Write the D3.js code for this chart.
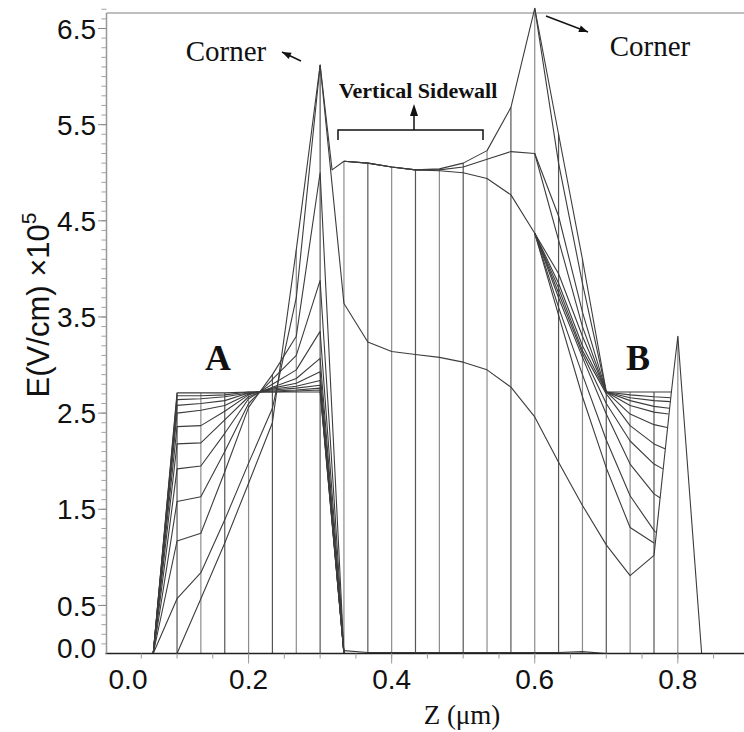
<!DOCTYPE html>
<html>
<head>
<meta charset="utf-8">
<script src="https://cdn.jsdelivr.net/npm/d3@7"></script>
<style>
  html, body { margin: 0; padding: 0; background: #fff; }
  svg { display: block; }
</style>
</head>
<body>
<svg id="chart" width="744" height="732"></svg>
<script>
// Z positions (µm) of the vertical mesh lines
const gridZ = [0.1, 0.1333, 0.1667, 0.2, 0.2333, 0.2667, 0.3, 0.3333, 0.3667,
  0.4, 0.4333, 0.4667, 0.5, 0.5333, 0.5667, 0.6, 0.6333, 0.6667, 0.7,
  0.7333, 0.7667, 0.8];

// Field profiles, [Z (µm), E (×1e5 V/cm)]
// outer profile: plateau A, left corner, sidewall, right corner, plateau B, edge peak
const pTop = [[0.0667, 0], [0.1, 0], [0.1333, 0.57], [0.1667, 1.15], [0.2, 1.77], [0.2333, 2.40], [0.2667, 4.20], [0.3, 6.12],
  [0.3167, 5.03], [0.3333, 5.12], [0.3667, 5.10], [0.4, 5.06], [0.4333, 5.03], [0.4667, 5.04], [0.5, 5.10],
  [0.5333, 5.23], [0.5667, 5.68], [0.6, 6.71], [0.6333, 5.40], [0.6667, 4.10], [0.7, 2.72], [0.7333, 2.72],
  [0.7667, 2.72], [0.791, 2.72], [0.8, 3.30], [0.8333, 0]];
// profile leaving the left corner towards the lower sidewall level
const pLow = [[0.0667, 0], [0.1, 0.57], [0.1333, 0.84], [0.1667, 1.39], [0.2, 1.98], [0.2333, 2.55], [0.2667, 3.70], [0.3, 6.12],
  [0.3333, 3.64], [0.3667, 3.24], [0.4, 3.14], [0.4333, 3.11], [0.4667, 3.08], [0.5, 3.03], [0.5333, 2.95],
  [0.5667, 2.77], [0.6, 2.46], [0.6333, 1.99], [0.6667, 1.54], [0.7, 1.13], [0.7333, 0.81], [0.7667, 1.02]];
// sidewall profiles splitting towards the right corner
const pSide2 = [[0.3333, 5.12], [0.3667, 5.10], [0.4, 5.06], [0.4333, 5.03], [0.4667, 5.03], [0.5, 5.06],
  [0.5333, 5.14], [0.5667, 5.22], [0.6, 5.20], [0.6333, 4.55], [0.6667, 3.55], [0.7, 2.72], [0.7333, 2.66],
  [0.7667, 2.63], [0.789, 2.62]];
const pSide3 = [[0.3333, 5.12], [0.3667, 5.10], [0.4, 5.06], [0.4333, 5.03], [0.4667, 5.02], [0.5, 5.00],
  [0.5333, 4.94], [0.5667, 4.77], [0.6, 4.37], [0.6333, 3.95], [0.6667, 3.30], [0.7, 2.72], [0.7333, 2.58],
  [0.7667, 2.51], [0.787, 2.49]];

// region A profiles (fan-in towards Z = 0.21, fan-out to the corner)
const pA0 = [[0.0667, 0], [0.1, 2.71], [0.1333, 2.71], [0.1667, 2.71], [0.2, 2.72], [0.2333, 2.72], [0.2667, 2.72], [0.3, 2.72], [0.3333, 0]];
const pA1 = [[0.0667, 0], [0.1, 2.68], [0.1333, 2.68], [0.1667, 2.69], [0.2, 2.72], [0.2333, 2.72], [0.2667, 2.73], [0.3, 2.74], [0.3333, 0]];
const pA2 = [[0.0667, 0], [0.1, 2.64], [0.1333, 2.65], [0.1667, 2.67], [0.2, 2.71], [0.2333, 2.73], [0.2667, 2.74], [0.3, 2.76], [0.3333, 0]];
const pA3 = [[0.0667, 0], [0.1, 2.58], [0.1333, 2.60], [0.1667, 2.63], [0.2, 2.71], [0.2333, 2.74], [0.2667, 2.76], [0.3, 2.79], [0.3333, 0]];
const pA4 = [[0.0667, 0], [0.1, 2.50], [0.1333, 2.53], [0.1667, 2.58], [0.2, 2.70], [0.2333, 2.75], [0.2667, 2.78], [0.3, 2.84], [0.3333, 0]];
const pA5 = [[0.0667, 0], [0.1, 2.36], [0.1333, 2.37], [0.1667, 2.52], [0.2, 2.69], [0.2333, 2.76], [0.2667, 2.81], [0.3, 2.93], [0.3333, 0]];
const pA6 = [[0.0667, 0], [0.1, 2.18], [0.1333, 2.19], [0.1667, 2.43], [0.2, 2.67], [0.2333, 2.77], [0.2667, 2.86], [0.3, 3.07], [0.3333, 0]];
const pA7 = [[0.0667, 0], [0.1, 1.92], [0.1333, 1.95], [0.1667, 2.29], [0.2, 2.65], [0.2333, 2.80], [0.2667, 2.95], [0.3, 3.35], [0.3333, 0]];
const pA8 = [[0.0667, 0], [0.1, 1.58], [0.1333, 1.63], [0.1667, 2.10], [0.2, 2.60], [0.2333, 2.85], [0.2667, 3.10], [0.3, 3.88], [0.3333, 0]];
const pA9 = [[0.0667, 0], [0.1, 1.17], [0.1333, 1.25], [0.1667, 1.89], [0.2, 2.56], [0.2333, 2.90], [0.2667, 3.30], [0.3, 5.00], [0.3333, 0]];

// right flank profiles entering the B fan
const pB1 = [[0.6, 6.71], [0.6333, 5.10], [0.6667, 3.85], [0.7, 2.72], [0.7333, 2.69], [0.7667, 2.67], [0.790, 2.66]];
const pB2 = [[0.6, 5.20], [0.6333, 4.30], [0.6667, 3.40], [0.7, 2.72], [0.7333, 2.63], [0.7667, 2.57], [0.788, 2.55]];
const pB3 = [[0.6, 4.37], [0.6333, 3.85], [0.6667, 3.20], [0.7, 2.72], [0.7333, 2.49], [0.7667, 2.38], [0.785, 2.35]];
const pB4 = [[0.6, 4.37], [0.6333, 3.80], [0.6667, 3.15], [0.7, 2.70], [0.7333, 2.37], [0.7667, 2.18], [0.782, 2.13]];
const pB5 = [[0.6, 4.37], [0.6333, 3.75], [0.6667, 3.12], [0.7, 2.60], [0.7333, 2.21], [0.7667, 1.97], [0.779, 1.92]];
const pB6 = [[0.6, 4.37], [0.6333, 3.70], [0.6667, 3.08], [0.7, 2.49], [0.7333, 1.97], [0.7667, 1.66], [0.775, 1.62]];
const pB7 = [[0.6, 4.37], [0.6333, 3.60], [0.6667, 2.90], [0.7, 2.22], [0.7333, 1.64], [0.7667, 1.28], [0.769, 1.26]];
const pB8 = [[0.6, 4.37], [0.6333, 3.52], [0.6667, 2.67], [0.7, 1.93], [0.7333, 1.31], [0.7667, 1.15]];
// slanted right boundary of the B fan
const pEdge = [[0.7667, 1.02], [0.791, 2.72]];
// residual field along the trench bottom
const pFloor = [[0.3333, 0.03], [0.3667, 0.01], [0.6333, 0.01], [0.6667, 0.02], [0.7, 0]];

const profiles = [pTop, pLow, pSide2, pSide3, pA0, pA1, pA2, pA3, pA4, pA5, pA6, pA7,
  pA8, pA9, pB1, pB2, pB3, pB4, pB5, pB6, pB7, pB8, pEdge, pFloor];

// Axis ticks
const yTickValues = [0.5, 1.5, 2.5, 3.5, 4.5, 5.5, 6.5];
const xTickValues = [0.2, 0.4, 0.6, 0.8];

const svg = d3.select("#chart");
const x = d3.scaleLinear().domain([0, 0.8925]).range([105.5, 744]);
const y = d3.scaleLinear().domain([0, 6.5]).range([653.5, 28.5]);
const yTop = 13;
const sans = "Liberation Sans, Arial, sans-serif";
const serif = "Liberation Serif, Times New Roman, serif";

// top edge of the frame
svg.append("line").attr("x1", 106.5).attr("x2", 744).attr("y1", yTop).attr("y2", yTop)
  .attr("stroke", "#aaa").attr("stroke-width", 1.5);

// vertical mesh lines, each up to the highest profile value at its node
const gridTop = gridZ.map(z => d3.max(profiles, p => {
  const pt = p.find(d => Math.abs(d[0] - z) < 1e-3);
  return pt ? pt[1] : 0;
}));
svg.append("g").selectAll("line").data(gridZ).join("line")
  .attr("x1", d => x(d)).attr("x2", d => x(d))
  .attr("y1", y(0)).attr("y2", (d, i) => y(gridTop[i]))
  .attr("stroke", (d, i) => i % 2 ? "#8c8c8c" : "#555")
  .attr("stroke-width", 1.2);

// profiles
const line = d3.line().x(d => x(d[0])).y(d => y(d[1]));
svg.append("g").selectAll("path").data(profiles).join("path")
  .attr("d", line)
  .attr("fill", "none").attr("stroke", "#3c3c3c").attr("stroke-width", 1.1)
  .attr("stroke-linejoin", "round");

// Z axis line
svg.append("line").attr("x1", x(0)).attr("x2", 744).attr("y1", y(0)).attr("y2", y(0))
  .attr("stroke", "#222").attr("stroke-width", 1.6);

// E axis line, ticks and labels
const yMinor = d3.range(1, 68).map(k => k / 10);
svg.append("line").attr("x1", 106.5).attr("x2", 106.5).attr("y1", y(0)).attr("y2", yTop)
  .attr("stroke", "#999").attr("stroke-width", 1.5);
svg.append("g").selectAll("line").data(yMinor).join("line")
  .attr("x1", 101.5).attr("x2", 106.5).attr("y1", d => y(d)).attr("y2", d => y(d))
  .attr("stroke", "#a0a0a0");
svg.append("g").selectAll("line").data(yTickValues).join("line")
  .attr("x1", 98).attr("x2", 106.5).attr("y1", d => y(d)).attr("y2", d => y(d))
  .attr("stroke", "#888");
svg.append("g").selectAll("text").data(yTickValues).join("text")
  .attr("x", 96).attr("y", d => y(d)).attr("dy", "0.36em")
  .attr("text-anchor", "end").attr("font-family", sans)
  .attr("font-size", 28).attr("fill", "#111").text(d => d.toFixed(1));
svg.append("text").attr("x", 96).attr("y", 648).attr("dy", "0.36em")
  .attr("text-anchor", "end").attr("font-family", sans)
  .attr("font-size", 28).attr("fill", "#111").text("0.0");

// Z axis ticks and labels
const xMinor = d3.range(1, 18).map(k => k * 0.05);
svg.append("g").selectAll("line").data(xMinor).join("line")
  .attr("x1", d => x(d)).attr("x2", d => x(d)).attr("y1", y(0)).attr("y2", y(0) + 5)
  .attr("stroke", "#999");
svg.append("g").selectAll("line").data(xTickValues).join("line")
  .attr("x1", d => x(d)).attr("x2", d => x(d)).attr("y1", y(0)).attr("y2", y(0) + 10)
  .attr("stroke", "#999");
svg.append("g").selectAll("text").data(xTickValues).join("text")
  .attr("x", d => x(d)).attr("y", 689)
  .attr("text-anchor", "middle").attr("font-family", sans)
  .attr("font-size", 28).attr("fill", "#111").text(d => d.toFixed(1));
svg.append("text").attr("x", 128).attr("y", 689)
  .attr("text-anchor", "middle").attr("font-family", sans)
  .attr("font-size", 28).attr("fill", "#111").text("0.0");

// axis titles
svg.append("text").attr("x", 462).attr("y", 724).attr("text-anchor", "middle")
  .attr("font-family", serif).attr("font-size", 27)
  .attr("fill", "#111").text("Z (μm)");
const yt = svg.append("text").attr("transform", "translate(49,305) rotate(-90)")
  .attr("text-anchor", "middle").attr("font-family", sans)
  .attr("font-size", 31).attr("fill", "#111");
yt.append("tspan").text("E(V/cm) ×10");
yt.append("tspan").attr("dy", -13).attr("font-size", 21).text("5");

// annotations
svg.append("text").attr("x", 226).attr("y", 61).attr("text-anchor", "middle")
  .attr("font-family", serif).attr("font-size", 29).attr("fill", "#111").text("Corner");
svg.append("text").attr("x", 650).attr("y", 56).attr("text-anchor", "middle")
  .attr("font-family", serif).attr("font-size", 29).attr("fill", "#111").text("Corner");
svg.append("text").attr("x", 218).attr("y", 370).attr("text-anchor", "middle")
  .attr("font-family", serif).attr("font-weight", "bold").attr("font-size", 36)
  .attr("fill", "#111").text("A");
svg.append("text").attr("x", 638).attr("y", 370).attr("text-anchor", "middle")
  .attr("font-family", serif).attr("font-weight", "bold").attr("font-size", 36)
  .attr("fill", "#111").text("B");
svg.append("text").attr("x", 418).attr("y", 98).attr("text-anchor", "middle")
  .attr("font-family", serif).attr("font-weight", "bold").attr("font-size", 22)
  .attr("fill", "#111").text("Vertical Sidewall");

// bracket under the sidewall label with an upward arrow
svg.append("path").attr("d", "M338,140 V130 H483 V140")
  .attr("fill", "none").attr("stroke", "#111").attr("stroke-width", 1.5);
svg.append("line").attr("x1", 414).attr("x2", 414).attr("y1", 130).attr("y2", 112)
  .attr("stroke", "#111").attr("stroke-width", 1.5);
svg.append("path").attr("d", "M414,104 L410,116 L418,116 Z").attr("fill", "#111");

// arrows pointing at the corner labels
function arrow(x1, y1, x2, y2) {
  svg.append("line").attr("x1", x1).attr("y1", y1).attr("x2", x2).attr("y2", y2)
    .attr("stroke", "#111").attr("stroke-width", 1.4);
  const a = Math.atan2(y2 - y1, x2 - x1), L = 9, W = 3.5;
  const bx = x2 - L * Math.cos(a), by = y2 - L * Math.sin(a);
  svg.append("path").attr("d",
    `M${x2},${y2} L${bx - W * Math.sin(a)},${by + W * Math.cos(a)} L${bx + W * Math.sin(a)},${by - W * Math.cos(a)} Z`)
    .attr("fill", "#111");
}
arrow(301, 61, 282, 52);
arrow(546, 16, 588, 32);
</script>
</body>
</html>
